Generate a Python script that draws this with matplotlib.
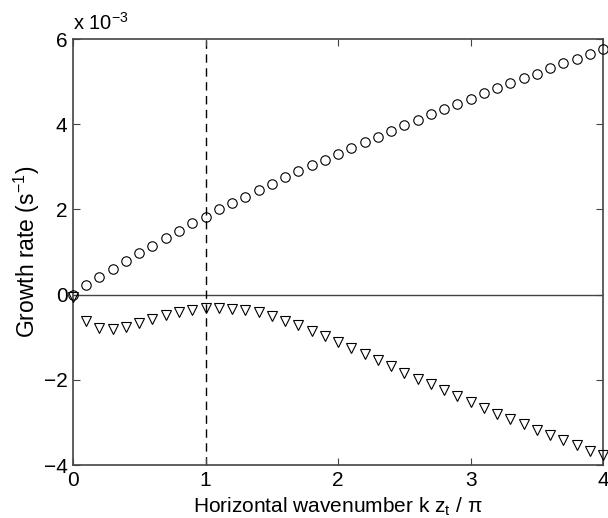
import matplotlib
matplotlib.use('Agg')
import matplotlib.pyplot as plt
import numpy as np

# wavenumber k z_t / pi, growth rates in units of 1e-3 s^-1
k = [0.0, 0.1, 0.2, 0.3, 0.4, 0.5, 0.6, 0.7, 0.8, 0.9,
     1.0, 1.1, 1.2, 1.3, 1.4, 1.5, 1.6, 1.7, 1.8, 1.9,
     2.0, 2.1, 2.2, 2.3, 2.4, 2.5, 2.6, 2.7, 2.8, 2.9,
     3.0, 3.1, 3.2, 3.3, 3.4, 3.5, 3.6, 3.7, 3.8, 3.9, 4.0]

rate_circ = [0.0, 0.22, 0.41, 0.61, 0.79, 0.98, 1.15, 1.33, 1.50, 1.67,
             1.83, 2.00, 2.15, 2.30, 2.46, 2.60, 2.76, 2.89, 3.04, 3.17,
             3.31, 3.44, 3.58, 3.71, 3.85, 3.98, 4.10, 4.23, 4.35, 4.48,
             4.60, 4.74, 4.85, 4.97, 5.08, 5.19, 5.31, 5.43, 5.54, 5.65, 5.76]

rate_tri = [-0.05, -0.63, -0.78, -0.80, -0.75, -0.66, -0.57, -0.48, -0.41, -0.35,
            -0.32, -0.32, -0.34, -0.37, -0.42, -0.51, -0.61, -0.72, -0.85, -0.97,
            -1.11, -1.25, -1.39, -1.54, -1.68, -1.83, -1.97, -2.11, -2.25, -2.39,
            -2.53, -2.67, -2.80, -2.92, -3.04, -3.18, -3.29, -3.41, -3.54, -3.66, -3.76]

xticks = [0, 1, 2, 3, 4]
yticks = [-4, -2, 0, 2, 4, 6]

plt.rcParams['font.family'] = ['Liberation Sans', 'DejaVu Sans']
plt.rcParams['mathtext.fontset'] = 'custom'
plt.rcParams['mathtext.rm'] = 'Liberation Sans'

fig = plt.figure(figsize=(6.08, 5.18), dpi=100)
ax = fig.add_axes([0.120, 0.1023, 0.872, 0.8224])

axcol = '#444444'
ax.axhline(0, color=axcol, lw=1.0, zorder=1)
ax.axvline(1, color='black', lw=1.0, ls=(0, (6, 4)), zorder=1)

ax.plot(k, rate_circ, 'o', ms=6.8, mfc='none', mec='black', mew=0.8,
        clip_on=False, zorder=3)
ax.plot(k, rate_tri, 'v', ms=7.2, mfc='none', mec='black', mew=0.8,
        clip_on=False, zorder=3)

ax.set_xlim(0, 4)
ax.set_ylim(-4, 6)
ax.set_xticks(xticks)
ax.set_yticks(yticks)
ax.set_xticklabels([str(v) for v in xticks])
ax.set_yticklabels([str(v).replace('-', '\u2212') for v in yticks])

ax.tick_params(direction='in', length=5, width=0.8, color=axcol,
               top=True, right=True, labelsize=15, pad=4)
for s in ax.spines.values():
    s.set_color(axcol)
    s.set_linewidth(1.2)

ax.set_xlabel('Horizontal wavenumber k z$_\\mathrm{t}$ / \u03c0', fontsize=15, labelpad=4)
ax.set_ylabel('Growth rate (s$^{\\mathrm{\u2212}1}$)', fontsize=16.5, labelpad=1)
ax.text(0.0, 1.012, 'x 10$^{\\mathrm{\u2212}3}$', transform=ax.transAxes, fontsize=14.5,
        ha='left', va='bottom')

fig.savefig('out.png', dpi=100)
